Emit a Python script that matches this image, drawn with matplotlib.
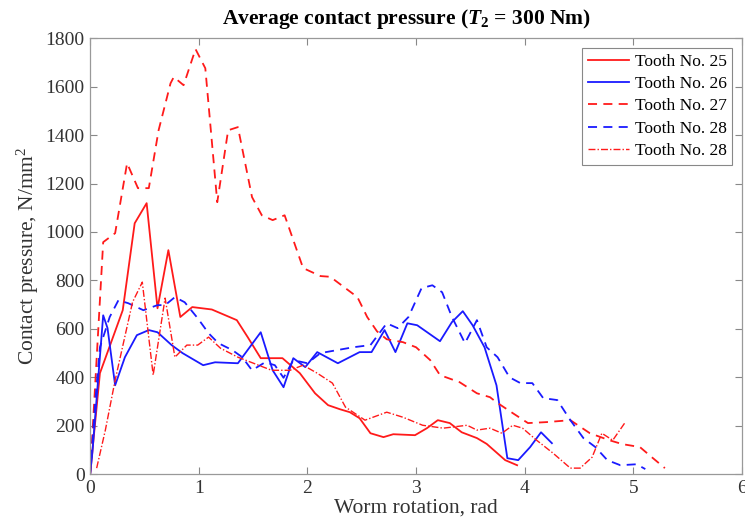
import matplotlib.pyplot as plt
import numpy as np

plt.rcParams['font.family'] = ['Liberation Serif', 'DejaVu Serif']
plt.rcParams['mathtext.fontset'] = 'custom'
plt.rcParams['mathtext.rm'] = 'Liberation Serif'
plt.rcParams['mathtext.it'] = 'Liberation Serif:italic:bold'
plt.rcParams['mathtext.bf'] = 'Liberation Serif:bold'

# Tooth No. 25 (red solid)
x25 = [0, 0.09, 0.2, 0.3, 0.41, 0.52, 0.62, 0.72, 0.83, 0.94, 1.12, 1.35, 1.45, 1.57, 1.77,
       1.93, 2.07, 2.19, 2.3, 2.39, 2.48, 2.58, 2.7, 2.79, 2.99, 3.1, 3.2, 3.31, 3.42, 3.56,
       3.65, 3.82, 3.93]
y25 = [0, 417, 553, 677, 1036, 1119, 685, 925, 649, 690, 680, 636, 566, 479, 479,
       417, 334, 285, 268, 256, 231, 169, 153, 165, 161, 190, 223, 211, 173, 149,
       125, 58, 37]

# Tooth No. 26 (blue solid)
x26 = [0, 0.02, 0.12, 0.16, 0.23, 0.32, 0.43, 0.54, 0.62, 0.75, 0.85, 1.04, 1.15, 1.36, 1.57,
       1.68, 1.78, 1.87, 1.98, 2.09, 2.28, 2.48, 2.59, 2.71, 2.81, 2.92, 3.01, 3.22, 3.33,
       3.43, 3.52, 3.63, 3.74, 3.84, 3.94, 4.05, 4.15, 4.25]
y26 = [0, 87, 656, 603, 367, 483, 574, 595, 586, 533, 500, 450, 462, 458, 586,
       429, 359, 479, 442, 504, 458, 504, 504, 595, 504, 623, 615, 549, 628,
       673, 615, 524, 367, 66, 58, 112, 173, 128]

# Tooth No. 27 (red dashed)
x27 = [0, 0.12, 0.23, 0.34, 0.44, 0.54, 0.63, 0.74, 0.77, 0.86, 0.97, 1.06, 1.17, 1.27, 1.36,
       1.49, 1.58, 1.68, 1.79, 1.96, 2.12, 2.21, 2.46, 2.55, 2.64, 2.73, 2.88, 3.0, 3.13,
       3.22, 3.4, 3.56, 3.68, 3.74, 3.89, 4.03, 4.2, 4.42, 4.6, 4.78, 4.9, 5.06, 5.17, 5.29]
y27 = [0, 958, 995, 1284, 1181, 1181, 1420, 1614, 1640, 1606, 1755, 1676, 1123, 1420, 1433,
       1144, 1069, 1049, 1069, 851, 818, 815, 731, 649, 590, 557, 545, 524, 471,
       409, 380, 334, 318, 297, 252, 211, 215, 223, 169, 140, 124, 112, 70, 25]

# Tooth No. 28 (blue dashed)
x28 = [0, 0.05, 0.09, 0.18, 0.26, 0.35, 0.49, 0.62, 0.69, 0.78, 0.87, 0.99, 1.09, 1.18, 1.31,
       1.4, 1.49, 1.61, 1.7, 1.78, 1.87, 2.0, 2.12, 2.27, 2.42, 2.58, 2.73, 2.83, 2.93, 3.05,
       3.15, 3.24, 3.33, 3.45, 3.56, 3.65, 3.75, 3.86, 3.96, 4.07, 4.17, 4.3, 4.42, 4.54,
       4.65, 4.76, 4.88, 5.03, 5.11]
y28 = [0, 318, 524, 649, 718, 706, 677, 698, 698, 731, 710, 644, 582, 541, 512,
       483, 429, 462, 450, 398, 471, 458, 500, 512, 524, 533, 623, 603, 649, 768,
       780, 751, 649, 541, 636, 524, 483, 400, 376, 376, 314, 306, 223, 149,
       112, 58, 37, 41, 21]

# Tooth No. 28 (red dash-dot)
x28b = [0.06, 0.14, 0.23, 0.39, 0.48, 0.58, 0.69, 0.78, 0.89, 0.99, 1.09, 1.2, 1.36, 1.55,
        1.67, 1.84, 1.96, 2.09, 2.23, 2.35, 2.53, 2.73, 2.88, 3.06, 3.25, 3.47, 3.56, 3.68,
        3.79, 3.89, 3.98, 4.11, 4.26, 4.42, 4.51, 4.62, 4.71, 4.81, 4.92]
y28b = [25, 182, 388, 710, 793, 409, 727, 483, 533, 533, 566, 520, 483, 450,
        429, 429, 450, 417, 376, 277, 223, 256, 235, 202, 190, 202, 182, 190,
        169, 202, 190, 140, 87, 25, 25, 70, 169, 140, 211]

fig = plt.figure(figsize=(7.45, 5.31), dpi=100)
ax = fig.add_axes([0.121, 0.107, 0.875, 0.821])

lw = 1.3
red = '#ff1a1a'
blue = '#1a1aff'
ax.plot(x25, y25, color=red, linestyle='-', linewidth=lw, label='Tooth No. 25')
ax.plot(x26, y26, color=blue, linestyle='-', linewidth=lw, label='Tooth No. 26')
ax.plot(x27, y27, color=red, linestyle=(0, (5, 3.5)), linewidth=lw, label='Tooth No. 27')
ax.plot(x28, y28, color=blue, linestyle=(0, (5, 3.5)), linewidth=lw, label='Tooth No. 28')
ax.plot(x28b, y28b, color=red, linestyle=(0, (5, 1.5, 1, 1.5)), linewidth=1.0,
        label='Tooth No. 28')

ax.set_xlim(0, 6)
ax.set_ylim(0, 1800)
ax.set_xticks(np.arange(0, 7, 1))
ax.set_yticks(np.arange(0, 1801, 200))
ax.tick_params(direction='in', top=True, right=True, labelsize=14, colors='#888888',
               labelcolor='#333333', length=5, width=0.8, pad=4)
for s in ax.spines.values():
    s.set_color('#999999')
    s.set_linewidth(0.9)

ax.set_xlabel('Worm rotation, rad', fontsize=15.5, labelpad=1, color='#333333')
ax.set_ylabel('Contact pressure, N/mm$^2$', fontsize=15.5, labelpad=3, color='#333333')
ax.set_title(r'Average contact pressure ($T_{\mathbf{2}}$ = 300 Nm)', fontsize=15.5,
             fontweight='bold', pad=10, x=0.485)

leg = ax.legend(loc='upper right', fontsize=12.5, fancybox=False, framealpha=1,
                edgecolor='#888888', handlelength=2.4, borderaxespad=0.55,
                labelspacing=0.35, handletextpad=0.3, borderpad=0.35)
leg.get_frame().set_linewidth(0.8)

fig.savefig('out.png', dpi=100)
